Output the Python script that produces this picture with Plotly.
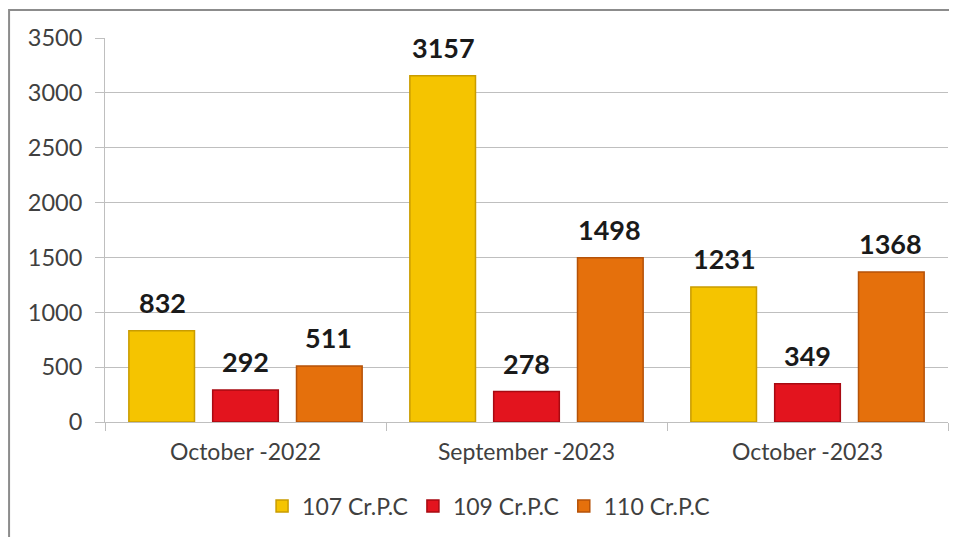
import plotly.graph_objects as go

categories = ["October -2022", "September -2023", "October -2023"]
series_names = ["107 Cr.P.C", "109 Cr.P.C", "110 Cr.P.C"]
values_107 = [832, 3157, 1231]
values_109 = [292, 278, 349]
values_110 = [511, 1498, 1368]
y_ticks = [0, 500, 1000, 1500, 2000, 2500, 3000, 3500]

colors = ["#F5C400", "#E3141E", "#E5700C"]
edge_colors = ["#C99C00", "#A80A12", "#B55208"]
all_values = [values_107, values_109, values_110]

fig = go.Figure()
for name, vals, col, ec in zip(series_names, all_values, colors, edge_colors):
    fig.add_trace(go.Bar(
        x=categories, y=vals, name=name,
        marker=dict(color=col, line=dict(color=ec, width=1.5)),
    ))

# value labels above bars
shifts = [-83, 0, 83]
for vals, xs in zip(all_values, shifts):
    for c, v in zip(categories, vals):
        fig.add_annotation(x=c, y=v, text=f"<b>{v}</b>", showarrow=False,
                           xshift=xs, yanchor="bottom", yshift=10,
                           font=dict(size=27, color="#1a1a1a", family="Lato"))

# outer chart border
fig.add_shape(type="rect", xref="paper", yref="paper",
              x0=-0.1138, x1=1.012, y0=-0.33, y1=1.0731,
              line=dict(color="#8c8c8c", width=2), fillcolor="rgba(0,0,0,0)", layer="below")

fig.update_layout(
    width=949, height=529,
    margin=dict(l=97, r=9, t=30, b=108),
    paper_bgcolor="white", plot_bgcolor="white",
    barmode="group", bargap=0.105, bargroupgap=0.217,
    font=dict(family="Lato", size=22, color="#404040"),
    showlegend=True,
    legend=dict(orientation="h", x=0.455, xanchor="center", y=-0.219, yanchor="middle",
                font=dict(size=23, color="#404040"), itemwidth=30, traceorder="normal"),
)
fig.update_yaxes(range=[0, 3500], tickvals=y_ticks, showgrid=True, gridcolor="#BFBFBF",
                 gridwidth=1, showline=True, linecolor="#BFBFBF", ticks="outside",
                 ticklen=9, tickcolor="#BFBFBF", tickfont=dict(size=23.5, color="#404040"),
                 ticklabelstandoff=8, zeroline=False)
fig.update_xaxes(showline=True, linecolor="#BFBFBF", ticks="outside", tickson="boundaries",
                 ticklen=8, tickcolor="#BFBFBF", tickfont=dict(size=23, color="#404040"),
                 ticklabelstandoff=9)

fig.write_html("out.html")
